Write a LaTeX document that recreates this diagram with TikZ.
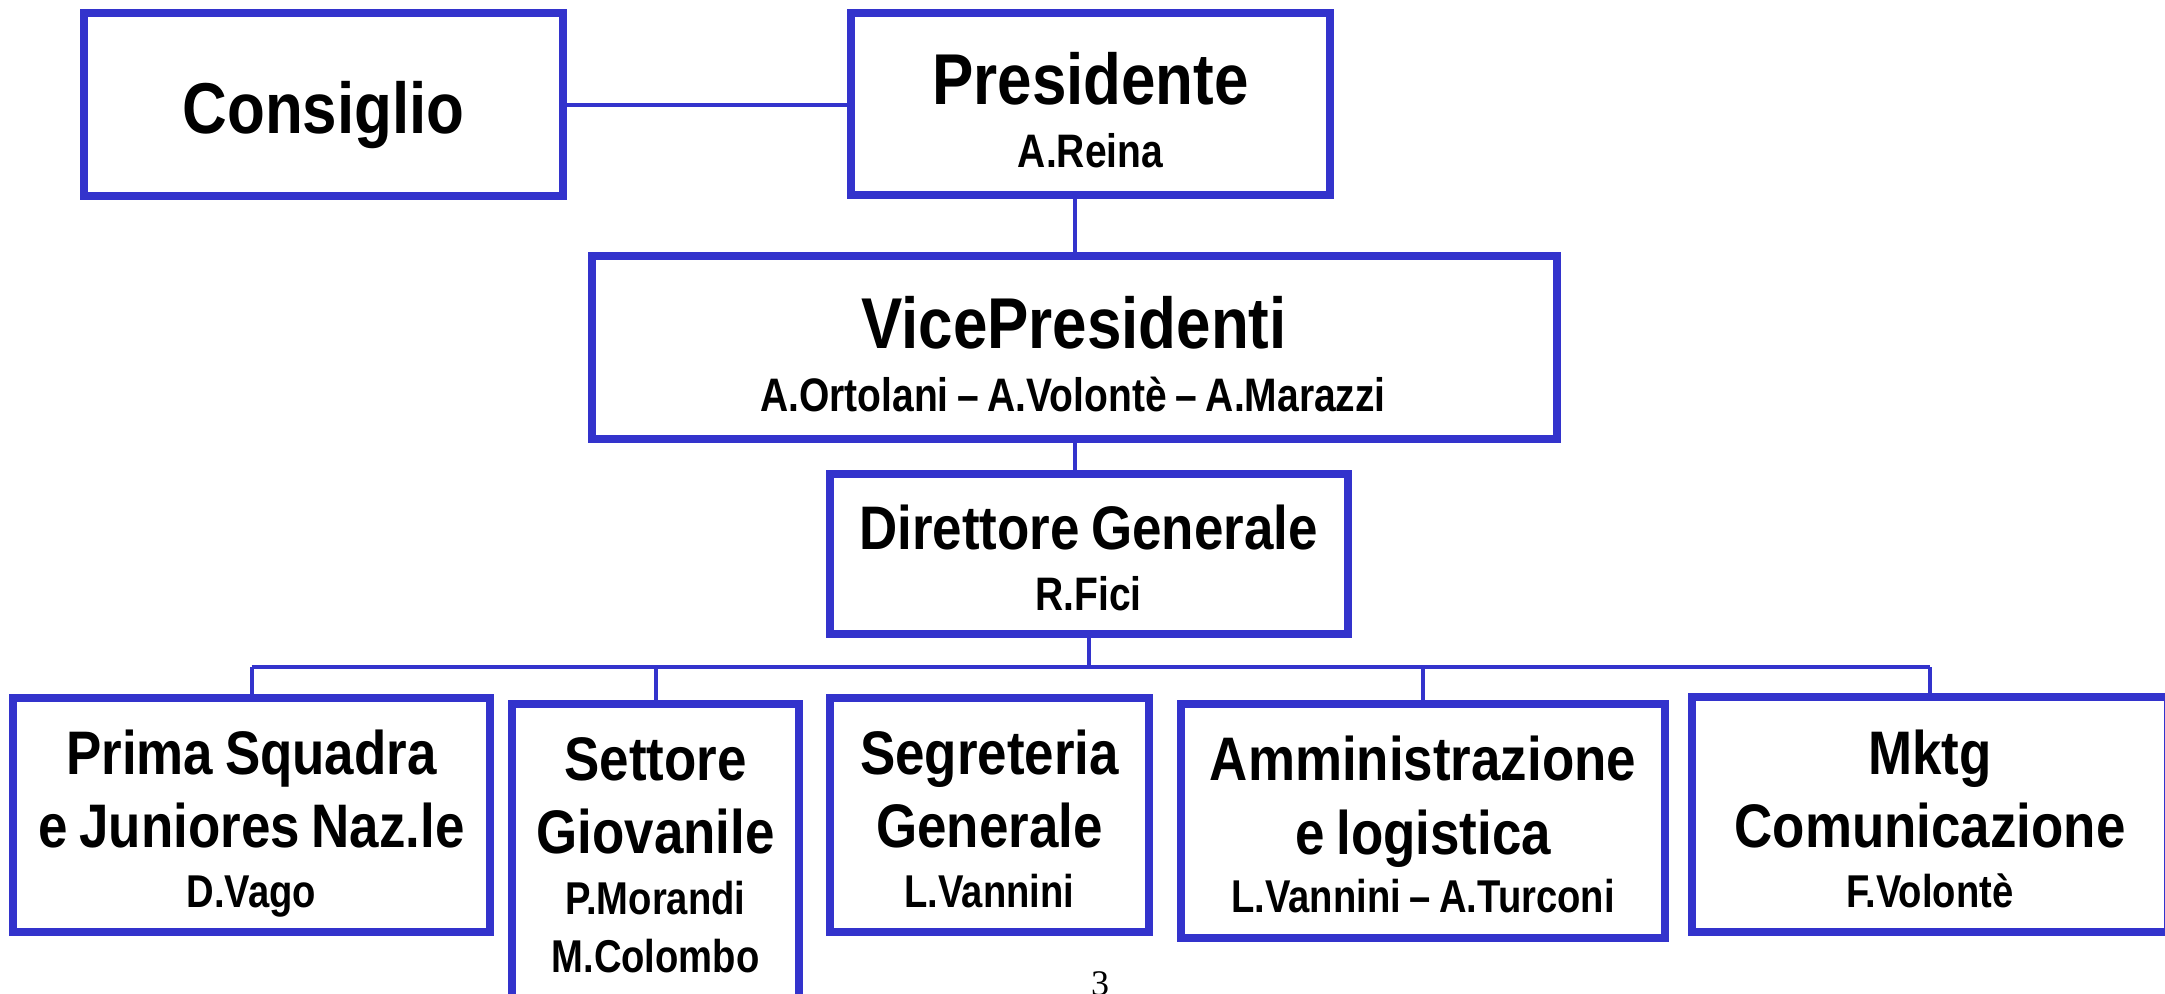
\documentclass[tikz,border=0pt]{standalone}
\usepackage{fontspec}
\setmainfont{Liberation Sans}
\newfontfamily\tfont[FakeStretch=0.86,WordSpace=0.8]{Liberation Sans}
\newfontfamily\subfnt[FakeStretch=0.83,WordSpace=0.8]{Liberation Sans}
\newfontfamily\pgfont{Liberation Serif}
\definecolor{orgblue}{RGB}{51,51,204}
\begin{document}
\begin{tikzpicture}[x=1pt,y=-1pt,
  box/.style={draw=orgblue, line width=7.5pt, fill=white, inner sep=0pt, rectangle},
  conn/.style={draw=orgblue, line width=4pt},
  txt/.style={anchor=base, inner sep=0pt, text=black},
  bigt/.style={txt, font=\tfont\bfseries\fontsize{72}{72}\selectfont},
  midt/.style={txt, font=\tfont\bfseries\fontsize{61.5}{61.5}\selectfont},
  subt/.style={txt, font=\subfnt\bfseries\fontsize{47}{47}\selectfont},
  subb/.style={txt, font=\subfnt\bfseries\fontsize{46}{46}\selectfont}]
\useasboundingbox (0,0) rectangle (2165,993);
\clip (0,0) rectangle (2165,993);
\fill[white] (0,0) rectangle (2165,993);

% boxes
\node[box, minimum width=479pt, minimum height=183pt] (consiglio) at (323.5,104.5) {};
\node[box, minimum width=479pt, minimum height=182pt] (presidente) at (1090.5,104) {};
\node[box, minimum width=965pt, minimum height=183pt] (vp) at (1074.5,347.5) {};
\node[box, minimum width=518pt, minimum height=160pt] (dg) at (1089,554) {};
\node[box, minimum width=477pt, minimum height=234pt] (prima) at (251.5,815) {};
\node[box, minimum width=287pt, minimum height=308pt] (settore) at (655.5,858) {};
\node[box, minimum width=319pt, minimum height=234pt] (segreteria) at (989.5,815) {};
\node[box, minimum width=484pt, minimum height=234pt] (amm) at (1423,821) {};
\node[box, minimum width=476pt, minimum height=235pt] (mktg) at (1930,814.5) {};

% connectors
\draw[conn] (consiglio.east) -- (consiglio.east -| presidente.west);
\draw[conn] (vp.north |- presidente.south) -- (vp.north);
\draw[conn] (vp.south) -- (vp.south |- dg.north);
\coordinate (bus) at (1089,667);
\draw[conn] (dg.south) -- (bus);
\draw[conn] (prima.north |- bus) -- (mktg.north |- bus);
\draw[conn] (prima.north |- bus) -- (prima.north);
\draw[conn] (settore.north |- bus) -- (settore.north);
\draw[conn] (amm.north |- bus) -- (amm.north);
\draw[conn] (mktg.north |- bus) -- (mktg.north);

% texts
\node[bigt] (consiglio-t) at (323.5,133) {Consiglio};
\node[bigt] (presidente-t) at (1090.5,104) {Presidente};
\node[subt] (presidente-s) at (1090.5,167) {A.Reina};
\node[bigt] (vp-t) at (1074,348) {VicePresidenti};
\node[subt] (vp-s) at (1073,411) {A.Ortolani – A.Volontè – A.Marazzi};
\node[midt] (dg-t) at (1088.5,549) {Direttore Generale};
\node[subt] (dg-s) at (1088.5,610) {R.Fici};

\node[midt] (prima-t1) at (251.5,774) {Prima Squadra};
\node[midt] (prima-t2) at (251.5,847) {e Juniores Naz.le};
\node[subb] (prima-s) at (251.5,907) {D.Vago};

\node[midt] (settore-t1) at (655.5,780) {Settore};
\node[midt] (settore-t2) at (655.5,853) {Giovanile};
\node[subb] (settore-s1) at (655.5,914) {P.Morandi};
\node[subb] (settore-s2) at (655.5,972) {M.Colombo};

\node[midt] (segreteria-t1) at (989.5,774) {Segreteria};
\node[midt] (segreteria-t2) at (989.5,847) {Generale};
\node[subb] (segreteria-s) at (989.5,907) {L.Vannini};

\node[midt] (amm-t1) at (1423,780) {Amministrazione};
\node[midt] (amm-t2) at (1423,854) {e logistica};
\node[subb] (amm-s) at (1423,912) {L.Vannini – A.Turconi};

\node[midt] (mktg-t1) at (1930,774) {Mktg};
\node[midt] (mktg-t2) at (1930,847) {Comunicazione};
\node[subb] (mktg-s) at (1930,907) {F.Volontè};

\node[txt, font=\pgfont\fontsize{36}{36}\selectfont] (pagenum) at (1100,995) {3};
\end{tikzpicture}
\end{document}
